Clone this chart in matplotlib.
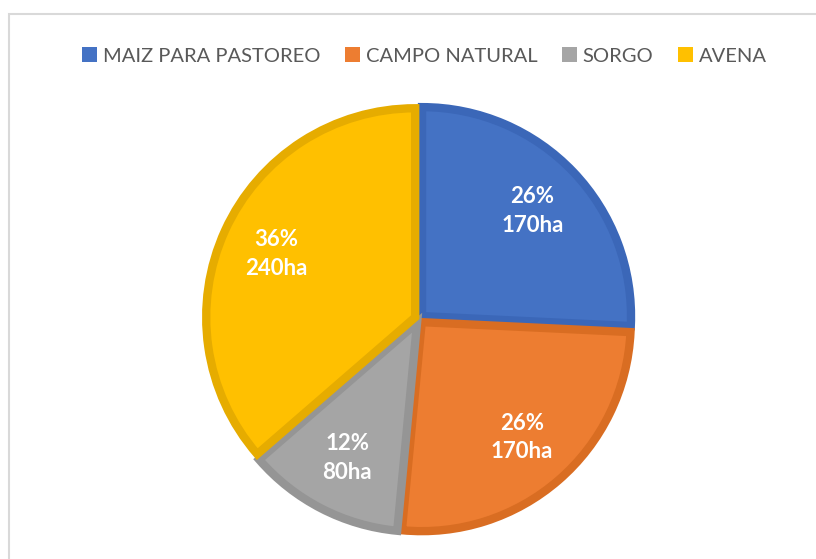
import matplotlib.pyplot as plt
from matplotlib.patches import Rectangle

labels = ["MAIZ PARA PASTOREO", "CAMPO NATURAL", "SORGO", "AVENA"]
hectares = [170, 170, 80, 240]
fill_colors = ["#4472C4", "#ED7D31", "#A5A5A5", "#FFC000"]
edge_colors = ["#3B67B8", "#D96D22", "#959595", "#E6AC00"]

plt.rcParams['font.family'] = ['Lato', 'DejaVu Sans']

fig = plt.figure(figsize=(8.16, 5.59), dpi=100)

# light frame around the chart area (cut off right and bottom)
fig.patches.append(Rectangle((9 / 816, -0.05), 1.0, 1 - 14 / 559 + 0.05,
                             transform=fig.transFigure, fill=False,
                             edgecolor="#D9D9D9", linewidth=1.5))

cx, cy, r = 419, 319, 209
half = r * 1.12
ax = fig.add_axes([(cx - half) / 816, (559 - cy - half) / 559, 2 * half / 816, 2 * half / 559])

total = sum(hectares)


def fmt(pct):
    val = round(pct * total / 100)
    return "{:.0f}%\n{}ha".format(pct, val)


wedges, texts, autotexts = ax.pie(
    hectares, colors=fill_colors, startangle=90, counterclock=False,
    explode=[0.02] * 4, autopct=fmt, pctdistance=0.73,
    wedgeprops=dict(linewidth=6, joinstyle="miter"),
    textprops=dict(color="white", fontsize=16, fontweight="bold"))

ax.set_xlim(-1.12, 1.12)
ax.set_ylim(-1.12, 1.12)
ax.set_aspect("equal")
ax.axis("off")

for w, ec in zip(wedges, edge_colors):
    w.set_edgecolor(ec)
for t in autotexts:
    t.set_linespacing(1.45)
    t.set_horizontalalignment("center")

fig.legend(wedges, labels, loc="center", bbox_to_anchor=(0.52, 1 - 56 / 559),
           ncol=4, frameon=False, fontsize=14.5, labelcolor="#595959",
           handlelength=0.75, handleheight=0.75, handletextpad=0.3,
           columnspacing=1.2)
for h in fig.legends[0].legend_handles:
    h.set_linewidth(0)

fig.savefig("out.png", dpi=100)
